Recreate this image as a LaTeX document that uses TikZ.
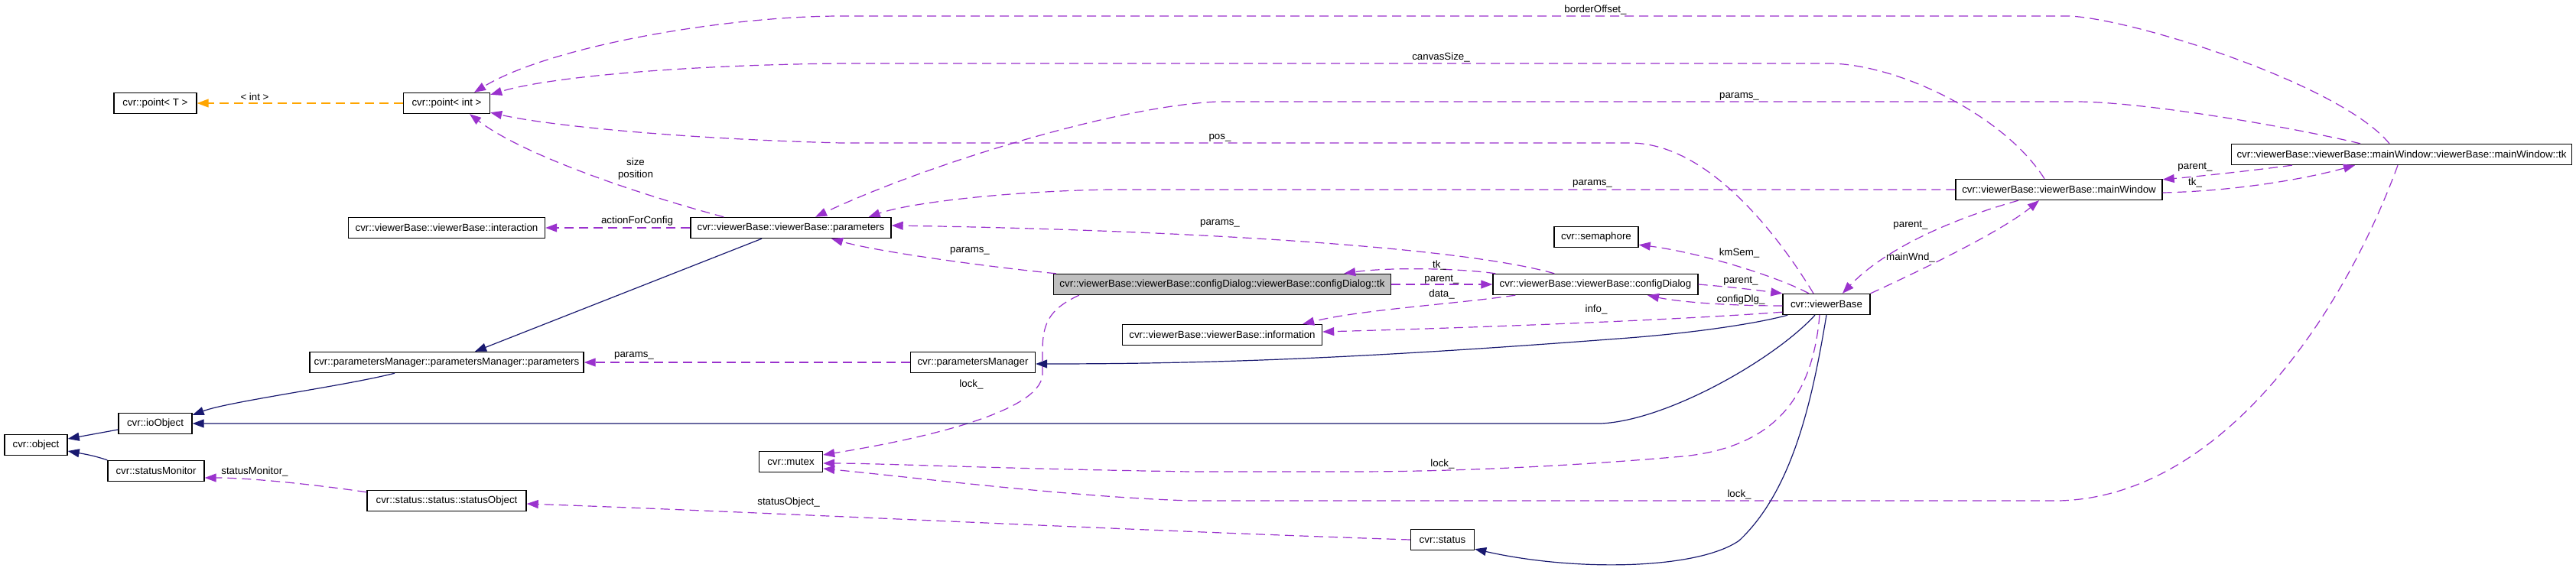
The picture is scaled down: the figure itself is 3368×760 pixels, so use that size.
\documentclass[tikz,border=0pt]{standalone}
\usepackage{fontspec}
\setmainfont{Liberation Sans}
\usetikzlibrary{arrows.meta}
\definecolor{usec}{HTML}{9A32CD}
\definecolor{inhc}{HTML}{191970}
\definecolor{tplc}{HTML}{FFA500}
\definecolor{selc}{HTML}{BFBFBF}
\newcommand\dfont{\fontsize{13.3pt}{16pt}\selectfont}
\begin{document}
\begin{tikzpicture}[x=1pt,y=-1pt,
  cls/.style={draw=black, line width=1.4pt, minimum height=27pt, inner sep=0pt, font=\dfont, fill=white},
  elab/.style={font=\dfont, inner sep=0pt, align=center},
  usearrow/.style={draw=usec, line width=1.2pt, dash pattern=on 12pt off 7pt, -{Triangle[length=15pt,width=11pt]}},
  inharrow/.style={draw=inhc, line width=1.2pt, -{Triangle[length=15pt,width=11pt]}},
  tplarrow/.style={draw=tplc, line width=1.2pt, dash pattern=on 12pt off 7pt, -{Triangle[length=15pt,width=11pt]}}]
\fill[white] (0,0) rectangle (3368,760);
\useasboundingbox (0,0) rectangle (3368,760);

% classes
\node[cls,minimum width=108pt] (ptT) at (203,135) {cvr::point< T >};
\node[cls,minimum width=113pt] (ptInt) at (584,135) {cvr::point< int >};
\node[cls,minimum width=257pt] (inter) at (584,298) {cvr::viewerBase::viewerBase::interaction};
\node[cls,minimum width=262pt] (vbpar) at (1034,298) {cvr::viewerBase::viewerBase::parameters};
\node[cls,minimum width=358pt] (pmpar) at (584,474) {cvr::parametersManager::parametersManager::parameters};
\node[cls,minimum width=96pt] (io) at (203,554) {cvr::ioObject};
\node[cls,minimum width=82pt] (obj) at (47,582) {cvr::object};
\node[cls,minimum width=126pt] (smon) at (204,616) {cvr::statusMonitor};
\node[cls,minimum width=208pt] (sobj) at (584,655) {cvr::status::status::statusObject};
\node[cls,minimum width=83pt] (mutex) at (1034,604) {cvr::mutex};
\node[cls,minimum width=163pt] (pm) at (1272,474) {cvr::parametersManager};
\node[cls,minimum width=261pt] (info) at (1598,438) {cvr::viewerBase::viewerBase::information};
\node[cls,minimum width=83pt] (status) at (1886,706) {cvr::status};
\node[cls,minimum width=441pt,fill=selc] (cdtk) at (1598,372) {cvr::viewerBase::viewerBase::configDialog::viewerBase::configDialog::tk};
\node[cls,minimum width=268pt] (cd) at (2086,372) {cvr::viewerBase::viewerBase::configDialog};
\node[cls,minimum width=110pt] (sem) at (2087,310) {cvr::semaphore};
\node[cls,minimum width=114pt] (vb) at (2388,398) {cvr::viewerBase};
\node[cls,minimum width=270pt] (mw) at (2692,248) {cvr::viewerBase::viewerBase::mainWindow};
\node[cls,minimum width=445pt] (mwtk) at (3140,202) {cvr::viewerBase::viewerBase::mainWindow::viewerBase::mainWindow::tk};

% template instance
\draw[tplarrow] (ptInt.west) -- (ptT.east);
\node[elab] (l1) at (333,127) {< int >};

% usage relations
\draw[usearrow] ([xshift=-16pt]mwtk.north) .. controls (3060,110) and (2790,25) .. (2706,21) -- (1100,21) .. controls (950,21) and (720,60) .. ([xshift=36pt]ptInt.north);
\node[elab] (l2) at (2086,13) {borderOffset\_};

\draw[usearrow] ([xshift=-19pt]mw.north) .. controls (2620,150) and (2480,83) .. (2390,83) -- (1100,83) .. controls (900,85) and (720,100) .. ([yshift=-3pt]ptInt.north east);
\node[elab] (l3) at (1884,75) {canvasSize\_};

\draw[usearrow] ([xshift=-54pt]mwtk.north) .. controls (2990,165) and (2800,133) .. (2714,133) -- (1591,133) .. controls (1450,140) and (1200,220) .. ([xshift=32pt]vbpar.north);
\node[elab] (l4) at (2274,126) {params\_};

\draw[usearrow] ([xshift=-17pt]vb.north) .. controls (2320,300) and (2230,187) .. (2131,187) -- (1100,187) .. controls (900,182) and (720,165) .. ([yshift=2pt]ptInt.south east);
\node[elab] (l5) at (1595,180) {pos\_};

\draw[usearrow] (mw.west) -- (1451,248) .. controls (1320,250) and (1190,265) .. ([xshift=-30pt]vbpar.north east);
\node[elab] (l6) at (2082,240) {params\_};

\draw[usearrow] ([xshift=44pt]vbpar.north west) .. controls (820,250) and (680,200) .. ([xshift=30pt]ptInt.south);
\node[elab] (l7) at (831,221) {size\\position};

\draw[usearrow] (vbpar.west) -- (inter.east);
\node[elab] (l8) at (833,289) {actionForConfig};

\draw[usearrow] ([xshift=4pt]cdtk.north west) .. controls (1300,350) and (1150,330) .. ([xshift=53pt]vbpar.south);
\node[elab] (l9) at (1268,328) {params\_};

\draw[usearrow] ([xshift=81pt]cd.north west) .. controls (1900,320) and (1500,300) .. ([yshift=3pt]vbpar.east);
\node[elab] (l10) at (1595,292) {params\_};

\draw[usearrow] ([xshift=4pt]cd.north west) .. controls (1900,350) and (1810,350) .. ([xshift=-62pt]cdtk.north east);
\node[elab] (l11) at (1882,347) {tk\_};

\draw[usearrow] (cdtk.east) -- (cd.west);
\node[elab] (l12) at (1885,366) {parent\_};

\draw[usearrow] ([xshift=30pt]cd.south west) .. controls (1900,398) and (1780,405) .. ([xshift=-26pt]info.north east);
\node[elab] (l13) at (1885,385) {data\_};

\draw[usearrow] ([yshift=4pt]vb.south west) .. controls (2200,418) and (1950,428) .. ([yshift=4pt]info.east);
\node[elab] (l14) at (2087,405) {info\_};

\draw[usearrow] ([yshift=-2pt]vb.west) .. controls (2250,400) and (2190,394) .. ([xshift=68pt]cd.south);
\node[elab] (l15) at (2276,392) {configDlg\_};

\draw[usearrow] (cd.east) .. controls (2270,376) and (2300,380) .. (vb.north west);
\node[elab] (l16) at (2276,368) {parent\_};

\draw[usearrow] ([xshift=-23pt]vb.north) .. controls (2320,360) and (2220,330) .. ([yshift=4pt]sem.south east);
\node[elab] (l17) at (2274,331) {kmSem\_};

\draw[usearrow] ([xshift=-53pt]mw.south) .. controls (2540,290) and (2460,330) .. ([xshift=21pt]vb.north);
\node[elab] (l18) at (2498,295) {parent\_};

\draw[usearrow] (vb.north east) .. controls (2530,345) and (2620,300) .. ([xshift=-26pt]mw.south);
\node[elab] (l19) at (2498,337) {mainWnd\_};

\draw[usearrow] ([xshift=80pt]mwtk.south west) .. controls (2930,225) and (2860,232) .. ([yshift=-1pt]mw.north east);
\node[elab] (l20) at (2870,219) {parent\_};

\draw[usearrow] ([yshift=-4pt]mw.east) .. controls (2920,250) and (3010,235) .. ([xshift=-61pt]mwtk.south);
\node[elab] (l21) at (2870,239) {tk\_};

\draw[usearrow] ([xshift=-5pt]mwtk.south) .. controls (3060,420) and (2900,650) .. (2692,655) -- (1556,655) .. controls (1400,650) and (1200,625) .. ([yshift=-9pt]mutex.east);
\node[elab] (l22) at (2274,647) {lock\_};

\draw[usearrow] ([xshift=-9pt]vb.south) .. controls (2370,520) and (2320,585) .. (2200,597) .. controls (2050,610) and (1900,617) .. (1766,617) -- (1556,617) .. controls (1300,613) and (1150,606) .. ([yshift=-2pt]mutex.east);
\node[elab] (l23) at (1886,607) {lock\_};

\draw[usearrow] ([xshift=34pt]cdtk.south west) .. controls (1370,405) and (1363,425) .. (1363,460) -- (1363,490) .. controls (1360,540) and (1200,575) .. ([yshift=9pt]mutex.east);
\node[elab] (l24) at (1270,503) {lock\_};

\draw[usearrow] (status.west) .. controls (1500,695) and (1000,670) .. ([yshift=-4pt]sobj.east);
\node[elab] (l25) at (1031,657) {statusObject\_};

\draw[usearrow] ([yshift=-3pt]sobj.north west) .. controls (420,635) and (330,625) .. ([yshift=-9pt]smon.east);
\node[elab] (l26) at (333,617) {statusMonitor\_};

\draw[usearrow] (pm.west) -- (pmpar.east);
\node[elab] (l27) at (829,465) {params\_};

% inheritance
\draw[inharrow] ([xshift=-38pt]vbpar.south) -- ([xshift=37pt]pmpar.north);
\draw[inharrow] ([xshift=-68pt]pmpar.south) .. controls (450,505) and (300,525) .. ([yshift=-3pt]io.north east);
\draw[inharrow] ([yshift=-8pt]io.west) -- ([yshift=8pt]obj.east);
\draw[inharrow] (smon.north west) .. controls (120,595) and (105,593) .. ([yshift=-8pt]obj.east);
\draw[inharrow] ([xshift=7pt]vb.south west) .. controls (2290,425) and (2200,437) .. (2116,443) .. controls (1800,467) and (1600,476) .. ([yshift=-2pt]pm.east);
\draw[inharrow] ([xshift=-15pt]vb.south) .. controls (2320,470) and (2180,550) .. (2093,554) -- (io.east);
\draw[inharrow] (vb.south) .. controls (2370,520) and (2345,640) .. (2274,707) .. controls (2220,745) and (2060,748) .. ([yshift=2pt]status.south east);
\end{tikzpicture}
\end{document}
